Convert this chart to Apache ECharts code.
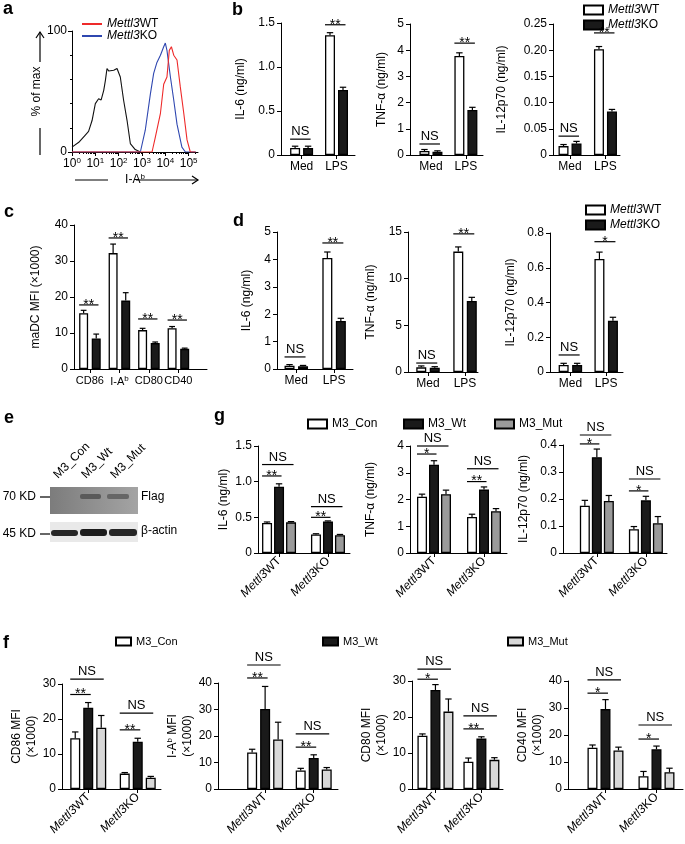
<!DOCTYPE html>
<html><head><meta charset="utf-8">
<script src="https://cdn.jsdelivr.net/npm/echarts@6/dist/echarts.min.js"></script>
<style>html,body{margin:0;padding:0;background:#fff}#c{width:685px;height:844px}</style>
</head><body><div id="c"></div>
<script>
const FONT = '"Liberation Sans", Arial, Helvetica, sans-serif';

// ===== Panel a: histogram (x = log10 of I-A^b, y = % of max)
const aIsoLog = [0,0.29,0.57,0.71,0.86,1.0,1.14,1.25,1.36,1.43,1.5,1.57,1.64,1.79,1.93,2.07,2.21,2.36,2.5,2.71,2.93];
const aIsoPct = [4,8,14,17,26,40,44,43,51,59,69,67,66,67.5,69,62,43,26,7,2,0];
const aKOLog = [0,2.93,3.14,3.36,3.5,3.64,3.79,3.93,4.0,4.07,4.21,4.36,4.5,4.71,4.86,5.3];
const aKOPct = [0,0,18,48,65,74,80,87,90,84,63,43,23,4,0,0];
const aWTLog = [0,3.43,3.57,3.79,3.93,4.07,4.17,4.26,4.36,4.5,4.64,4.79,4.93,5.07,5.3];
const aWTPct = [0,0,12,32,56,62,84,87,80,76,54,32,10,0,0];
const aDecades = [0,1,2,3,4,5];

// ===== categories
const medLps = ['Med','LPS'];
const markers = ['CD86','I-A^b','CD80','CD40'];
const genotypes = ['Mettl3WT','Mettl3KO'];

// ===== Panel b (BMDC cytokines)
const bIL6WT = [0.08,1.36],  bIL6WTErr = [0.02,0.03],  bIL6KO = [0.08,0.74],  bIL6KOErr = [0.02,0.03];
const bTNFWT = [0.15,3.78],  bTNFWTErr = [0.06,0.12],  bTNFKO = [0.12,1.72],  bTNFKOErr = [0.04,0.1];
const bIL12WT = [0.017,0.202], bIL12WTErr = [0.003,0.005], bIL12KO = [0.022,0.083], bIL12KOErr = [0.004,0.004];
const bIL6Sig = [[0,0,1,0.18,'NS'],[1,0,1,1.48,'**']];
const bTNFSig = [[0,0,1,0.42,'NS'],[1,0,1,4.27,'**']];
const bIL12Sig = [[0,0,1,0.036,'NS'],[1,0,1,0.233,'**']];

// ===== Panel c (maDC MFI x1000)
const cWT = [15.5,32.2,10.8,11.3], cWTErr = [0.8,2.5,0.5,0.5];
const cKO = [8.5,19,7.2,5.6],      cKOErr = [1.2,2.2,0.3,0.2];
const cSig = [[0,0,1,17.8,'**'],[1,0,1,36.4,'**'],[2,0,1,13.9,'**'],[3,0,1,13.6,'**']];

// ===== Panel d
const dIL6WT = [0.12,4.05], dIL6WTErr = [0.04,0.22], dIL6KO = [0.1,1.75], dIL6KOErr = [0.03,0.1];
const dTNFWT = [0.5,12.9],  dTNFWTErr = [0.15,0.5],  dTNFKO = [0.45,7.6], dTNFKOErr = [0.12,0.4];
const dIL12WT = [0.04,0.65], dIL12WTErr = [0.01,0.04], dIL12KO = [0.04,0.295], dIL12KOErr = [0.01,0.02];
const dIL6Sig = [[0,0,1,0.44,'NS'],[1,0,1,4.6,'**']];
const dTNFSig = [[0,0,1,0.96,'NS'],[1,0,1,14.8,'**']];
const dIL12Sig = [[0,0,1,0.098,'NS'],[1,0,1,0.75,'*']];

// ===== Panel g (M3 rescue, cytokines)  [Mettl3WT, Mettl3KO]
const gIL6Con = [0.42,0.26], gIL6ConErr = [0.015,0.01], gIL6Wt = [0.93,0.44], gIL6WtErr = [0.04,0.01], gIL6Mut = [0.43,0.25], gIL6MutErr = [0.01,0.01];
const gTNFCon = [2.1,1.35],  gTNFConErr = [0.1,0.1],    gTNFWt = [3.3,2.37],  gTNFWtErr = [0.15,0.1],  gTNFMut = [2.2,1.56],  gTNFMutErr = [0.15,0.1];
const gIL12Con = [0.175,0.088], gIL12ConErr = [0.02,0.01], gIL12Wt = [0.355,0.195], gIL12WtErr = [0.03,0.015], gIL12Mut = [0.193,0.11], gIL12MutErr = [0.02,0.025];
const gIL6Sig = [[0,0,1,1.08,'**'],[0,0,2,1.24,'NS'],[1,0,1,0.5,'**'],[1,0,2,0.65,'NS']];
const gTNFSig = [[0,0,1,3.7,'*'],[0,0,2,4.0,'NS'],[1,0,1,2.67,'**'],[1,0,2,3.15,'NS']];
const gIL12Sig = [[0,0,1,0.404,'*'],[0,0,2,0.437,'NS'],[1,0,1,0.23,'*'],[1,0,2,0.274,'NS']];

// ===== Panel f (M3 rescue, MFI x1000)
const fCD86Con = [14.5,4.4], fCD86ConErr = [1.8,0.3], fCD86Wt = [23.2,13.5], fCD86WtErr = [1.5,1.0], fCD86Mut = [17.5,3.2], fCD86MutErr = [3.5,0.4];
const fIAbCon = [13.8,7.0],  fIAbConErr = [1.2,0.8],  fIAbWt = [30.2,11.7],  fIAbWtErr = [8.5,1.2],  fIAbMut = [18.7,7.4],  fIAbMutErr = [6.5,0.7];
const fCD80Con = [14.8,7.6], fCD80ConErr = [0.5,1.0], fCD80Wt = [27.5,14.0], fCD80WtErr = [1.5,0.5], fCD80Mut = [21.5,8.1], fCD80MutErr = [3.5,0.6];
const fCD40Con = [15.3,4.7], fCD40ConErr = [1.0,1.8], fCD40Wt = [29.6,14.7], fCD40WtErr = [3.5,1.2], fCD40Mut = [14.3,6.2], fCD40MutErr = [1.2,1.5];
const fCD86Sig = [[0,0,1,27,'**'],[0,0,2,31.4,'NS'],[1,0,1,16.9,'**'],[1,0,2,21.7,'NS']];
const fIAbSig  = [[0,0,1,41.9,'**'],[0,0,2,46.8,'NS'],[1,0,1,15.8,'**'],[1,0,2,20.8,'NS']];
const fCD80Sig = [[0,0,1,30.5,'*'],[0,0,2,33.3,'NS'],[1,0,1,16.7,'**'],[1,0,2,20.3,'NS']];
const fCD40Sig = [[0,0,1,35.5,'*'],[0,0,2,40.4,'NS'],[1,0,1,18.5,'*'],[1,0,2,23.7,'NS']];

// ===== styles (not data)
const STY = {
  WT:{name:'Mettl3WT', color:'#ffffff'}, KO:{name:'Mettl3KO', color:'#1a1a1a'},
  fCon:{name:'fCon', color:'#ffffff'}, fWt:{name:'fWt', color:'#1a1a1a'}, fMut:{name:'fMut', color:'#d8d8d8'},
  gCon:{name:'gCon', color:'#ffffff'}, gWt:{name:'gWt', color:'#1a1a1a'}, gMut:{name:'gMut', color:'#9a9a9a'}
};
const LEG = {Mettl3WT:'{i|Mettl3}WT', Mettl3KO:'{i|Mettl3}KO', hWT:'{i|Mettl3}WT', hKO:'{i|Mettl3}KO',
  fCon:'M3_Con', fWt:'M3_Wt', fMut:'M3_Mut', gCon:'M3_Con', gWt:'M3_Wt', gMut:'M3_Mut'};

// layout: grid box and x range (category index units)
const L = {
  a:{left:72,top:31,width:126,height:121},
  b1:{left:281,top:23,width:74,height:132,xmin:-0.59,xmax:1.53,gap:33},
  b2:{left:410,top:24,width:73,height:131,xmin:-0.6,xmax:1.49,gap:21},
  b3:{left:553,top:24,width:67,height:131,xmin:-0.48,xmax:1.41,gap:44},
  c:{left:74,top:225,width:133,height:144,xmin:-0.54,xmax:3.97,gap:31},
  d1:{left:277,top:232,width:76,height:137,xmin:-0.51,xmax:1.5,gap:23},
  d2:{left:408,top:232,width:70,height:140,xmin:-0.54,xmax:1.35,gap:30},
  d3:{left:550,top:233,width:73,height:139,xmin:-0.57,xmax:1.47,gap:32},
  g1:{left:258,top:446,width:92,height:107,xmin:-0.43,xmax:1.45,gap:15},
  g2:{left:410,top:446,width:97,height:107,xmin:-0.48,xmax:1.46,gap:32},
  g3:{left:563,top:445,width:104,height:108,xmin:-0.69,xmax:1.43,gap:32},
  f1:{left:62,top:684,width:99,height:105,xmin:-0.53,xmax:1.47,gap:20},
  f2:{left:218,top:683,width:120,height:106,xmin:-0.97,xmax:1.5,gap:4},
  f3:{left:412,top:681,width:91,height:108,xmin:-0.51,xmax:1.47,gap:16},
  f4:{left:568,top:681,width:115,height:108,xmin:-0.735,xmax:1.52,gap:8}
};

const panels = [
  {L:L.b1, cats:medLps, yMax:1.5, yInt:0.5, dec:1, yName:'IL-6 (ng/ml)', bw:10, bg:0.3, rot:0,
   ser:[['WT',bIL6WT,bIL6WTErr],['KO',bIL6KO,bIL6KOErr]], sig:bIL6Sig},
  {L:L.b2, cats:medLps, yMax:5, yInt:1, dec:0, yName:'TNF-α (ng/ml)', bw:10, bg:0.3, rot:0,
   ser:[['WT',bTNFWT,bTNFWTErr],['KO',bTNFKO,bTNFKOErr]], sig:bTNFSig},
  {L:L.b3, cats:medLps, yMax:0.25, yInt:0.05, dec:2, yName:'IL-12p70 (ng/ml)', bw:10, bg:0.3, rot:0,
   ser:[['WT',bIL12WT,bIL12WTErr],['KO',bIL12KO,bIL12KOErr]], sig:bIL12Sig},
  {L:L.c, cats:markers, yMax:40, yInt:10, dec:0, yName:'maDC MFI (×1000)', bw:9, bg:0.4, rot:0, lab:11,
   ser:[['WT',cWT,cWTErr],['KO',cKO,cKOErr]], sig:cSig},
  {L:L.d1, cats:medLps, yMax:5, yInt:1, dec:0, yName:'IL-6 (ng/ml)', bw:10, bg:0.35, rot:0,
   ser:[['WT',dIL6WT,dIL6WTErr],['KO',dIL6KO,dIL6KOErr]], sig:dIL6Sig},
  {L:L.d2, cats:medLps, yMax:15, yInt:5, dec:0, yName:'TNF-α (ng/ml)', bw:10, bg:0.35, rot:0,
   ser:[['WT',dTNFWT,dTNFWTErr],['KO',dTNFKO,dTNFKOErr]], sig:dTNFSig},
  {L:L.d3, cats:medLps, yMax:0.8, yInt:0.2, dec:1, yName:'IL-12p70 (ng/ml)', bw:10, bg:0.35, rot:0,
   ser:[['WT',dIL12WT,dIL12WTErr],['KO',dIL12KO,dIL12KOErr]], sig:dIL12Sig},
  {L:L.g1, cats:genotypes, yMax:1.5, yInt:0.5, dec:1, yName:'IL-6 (ng/ml)', bw:10, bg:0.2, rot:45,
   ser:[['gCon',gIL6Con,gIL6ConErr],['gWt',gIL6Wt,gIL6WtErr],['gMut',gIL6Mut,gIL6MutErr]], sig:gIL6Sig},
  {L:L.g2, cats:genotypes, yMax:4, yInt:1, dec:0, yName:'TNF-α (ng/ml)', bw:10, bg:0.2, rot:45,
   ser:[['gCon',gTNFCon,gTNFConErr],['gWt',gTNFWt,gTNFWtErr],['gMut',gTNFMut,gTNFMutErr]], sig:gTNFSig},
  {L:L.g3, cats:genotypes, yMax:0.4, yInt:0.1, dec:1, yName:'IL-12p70 (ng/ml)', bw:10, bg:0.2, rot:45,
   ser:[['gCon',gIL12Con,gIL12ConErr],['gWt',gIL12Wt,gIL12WtErr],['gMut',gIL12Mut,gIL12MutErr]], sig:gIL12Sig},
  {L:L.f1, cats:genotypes, yMax:30, yInt:10, dec:0, yName:'CD86 MFI\n(×1000)', bw:10, bg:0.3, rot:45,
   ser:[['fCon',fCD86Con,fCD86ConErr],['fWt',fCD86Wt,fCD86WtErr],['fMut',fCD86Mut,fCD86MutErr]], sig:fCD86Sig},
  {L:L.f2, cats:genotypes, yMax:40, yInt:10, dec:0, yName:'I-A{s|b} MFI\n(×1000)', bw:10, bg:0.3, rot:45,
   ser:[['fCon',fIAbCon,fIAbConErr],['fWt',fIAbWt,fIAbWtErr],['fMut',fIAbMut,fIAbMutErr]], sig:fIAbSig},
  {L:L.f3, cats:genotypes, yMax:30, yInt:10, dec:0, yName:'CD80 MFI\n(×1000)', bw:10, bg:0.3, rot:45,
   ser:[['fCon',fCD80Con,fCD80ConErr],['fWt',fCD80Wt,fCD80WtErr],['fMut',fCD80Mut,fCD80MutErr]], sig:fCD80Sig},
  {L:L.f4, cats:genotypes, yMax:40, yInt:10, dec:0, yName:'CD40 MFI\n(×1000)', bw:10, bg:0.3, rot:45,
   ser:[['fCon',fCD40Con,fCD40ConErr],['fWt',fCD40Wt,fCD40WtErr],['fMut',fCD40Mut,fCD40MutErr]], sig:fCD40Sig}
];

function mkRich(sz){
  return {
    i:{fontStyle:'italic', fontSize:sz, fontFamily:FONT, color:'#000'},
    s:{fontSize:8, fontFamily:FONT, color:'#000', verticalAlign:'bottom', padding:[0,0,6,0]}
  };
}
const RICH = mkRich(12);
function catLabel(name){
  if (name.indexOf('Mettl3') === 0) return '{i|Mettl3}' + name.slice(6);
  return name.replace(/\^(\w+)/, '{s|$1}');
}

const grid = [], xAxis = [], yAxis = [], series = [];

// --- panel a
grid.push({left:L.a.left, top:L.a.top, width:L.a.width, height:L.a.height});
xAxis.push({gridIndex:0, type:'value', min:0, max:5.4, position:'bottom',
  axisLine:{show:true, onZero:false, lineStyle:{color:'#000', width:1}},
  axisTick:{show:true, customValues:aDecades, length:4, lineStyle:{color:'#000'}},
  axisLabel:{customValues:aDecades, color:'#000', fontSize:12, fontFamily:FONT, margin:5,
    showMinLabel:true, showMaxLabel:true, hideOverlap:false,
    formatter:v => '10{s|' + v + '}', rich:RICH},
  splitLine:{show:false},
  name:'I-A{s|b}', nameLocation:'middle', nameGap:21,
  nameTextStyle:{color:'#000', fontSize:12, fontFamily:FONT, rich:RICH}});
yAxis.push({gridIndex:0, type:'value', min:0, max:100, interval:100,
  axisLine:{show:true, onZero:false, lineStyle:{color:'#000', width:1}},
  axisTick:{show:true, length:4, lineStyle:{color:'#000'}},
  minorTick:{show:true, splitNumber:5, length:2, lineStyle:{color:'#000'}},
  axisLabel:{color:'#000', fontSize:12, fontFamily:FONT, margin:5},
  splitLine:{show:false}, minorSplitLine:{show:false},
  name:'% of max', nameLocation:'middle', nameGap:25,
  nameTextStyle:{color:'#000', fontSize:12, fontFamily:FONT}});
const histLine = (name, xs, ys, color) => ({type:'line', name, xAxisIndex:0, yAxisIndex:0, symbol:'none',
  data: xs.map((x, i) => [x, ys[i]]), lineStyle:{color, width:1.1}, itemStyle:{color}, silent:true});
series.push(histLine('hIso', aIsoLog, aIsoPct, '#111'));
series.push(histLine('hKO', aKOLog, aKOPct, '#2f47b0'));
series.push(histLine('hWT', aWTLog, aWTPct, '#ee2a2a'));

function errRender(bw, gapPx, n, i){
  return function(params, api){
    const x = api.value(0), m = api.value(1), e = api.value(2);
    const off = (i - (n - 1) / 2) * (bw + gapPx);
    const p0 = api.coord([x, m]), p1 = api.coord([x, m + e]);
    const cx = p0[0] + off, cap = bw * 0.32;
    return {type:'group', children:[
      {type:'line', shape:{x1:cx, y1:p0[1], x2:cx, y2:p1[1]}, style:{stroke:'#000', lineWidth:1.2}},
      {type:'line', shape:{x1:cx - cap, y1:p1[1], x2:cx + cap, y2:p1[1]}, style:{stroke:'#000', lineWidth:1.2}}
    ]};
  };
}
function sigRender(sig, bw, gapPx, n){
  return function(params, api){
    const s = sig[params.dataIndex];
    const off = k => (k - (n - 1) / 2) * (bw + gapPx);
    const p = api.coord([s[0], s[3]]);
    const x1 = p[0] + off(s[1]) - bw / 2, x2 = p[0] + off(s[2]) + bw * 0.25;
    const star = s[4].indexOf('*') >= 0;
    return {type:'group', children:[
      {type:'line', shape:{x1, y1:p[1], x2, y2:p[1]}, style:{stroke:'#000', lineWidth:1.2}},
      {type:'text', x:(x1 + x2) / 2, y: star ? p[1] + 7 : p[1] - 1,
        style:{text:s[4], align:'center', verticalAlign:'bottom', fontSize: star ? 14 : 13, fontFamily:FONT, fill:'#000'}}
    ]};
  };
}

panels.forEach((p, k) => {
  const gi = k + 1;
  const idx = p.cats.map((c, i) => i);
  const lab = p.lab || 12;
  grid.push({left:p.L.left, top:p.L.top, width:p.L.width, height:p.L.height});
  xAxis.push({gridIndex:gi, type:'value', min:p.L.xmin, max:p.L.xmax,
    axisLine:{show:true, onZero:false, lineStyle:{color:'#000', width:1}},
    axisTick:{show:true, customValues:idx, length:4, lineStyle:{color:'#000'}},
    axisLabel:{customValues:idx, color:'#000', fontSize:lab, fontFamily:FONT, margin:6, rotate:p.rot,
      showMinLabel:true, showMaxLabel:true, hideOverlap:false,
      formatter:v => catLabel(p.cats[Math.round(v)]), rich:mkRich(lab)},
    splitLine:{show:false}});
  yAxis.push({gridIndex:gi, type:'value', min:0, max:p.yMax, interval:p.yInt,
    axisLine:{show:true, onZero:false, lineStyle:{color:'#000', width:1}},
    axisTick:{show:true, length:4, lineStyle:{color:'#000'}},
    axisLabel:{color:'#000', fontSize:12, fontFamily:FONT, margin:6,
      formatter:v => v === 0 ? '0' : v.toFixed(p.dec)},
    splitLine:{show:false},
    name:p.yName, nameLocation:'middle', nameGap:p.L.gap,
    nameTextStyle:{color:'#000', fontSize:12, fontFamily:FONT, lineHeight:15, rich:RICH}});
  const n = p.ser.length, gapPx = p.bw * p.bg;
  p.ser.forEach(([key, vals]) => {
    series.push({type:'bar', name:STY[key].name, xAxisIndex:gi, yAxisIndex:gi,
      barWidth:p.bw, barGap:(p.bg * 100) + '%', silent:true,
      data: vals.map((v, i) => [i, v]),
      itemStyle:{color:STY[key].color, borderColor:'#000', borderWidth:1.3}});
  });
  p.ser.forEach(([key, vals, errs], si) => {
    series.push({type:'custom', xAxisIndex:gi, yAxisIndex:gi, silent:true, z:3,
      data: vals.map((v, i) => [i, v, errs[i]]), encode:{x:0, y:1},
      renderItem: errRender(p.bw, gapPx, n, si)});
  });
  series.push({type:'custom', xAxisIndex:gi, yAxisIndex:gi, silent:true, z:4,
    data: p.sig.map(s => [s[0], s[3]]), encode:{x:0, y:1},
    renderItem: sigRender(p.sig, p.bw, gapPx, n)});
});

// panel a: log-scale minor ticks on an extra, label-less x axis
const aMinor = [];
aDecades.forEach(d => [2,3,4,5,6,7,8,9].forEach(m => { const t = d + Math.log10(m); if (t <= 5.4) aMinor.push(t); }));
xAxis.push({gridIndex:0, type:'value', min:0, max:5.4, position:'bottom',
  axisLine:{show:false, onZero:false}, axisTick:{show:true, customValues:aMinor, length:2, lineStyle:{color:'#000'}},
  axisLabel:{show:false}, splitLine:{show:false}});

function legend(names, left, top, opts){
  return Object.assign({data:names, left, top, orient:'vertical', selectedMode:false, icon:'rect',
    itemWidth:19, itemHeight:9, itemGap:3,
    formatter: nm => LEG[nm] || nm,
    textStyle:{color:'#000', fontSize:12, fontFamily:FONT, rich:RICH}}, opts || {});
}
const fTxt = {color:'#000', fontSize:11, fontFamily:FONT};
const legends = [
  legend(['hWT','hKO'], 77, 13, {itemWidth:20, itemHeight:2, itemGap:0}),
  legend(['Mettl3WT','Mettl3KO'], 578, -1),
  legend(['Mettl3WT','Mettl3KO'], 580, 199),
  legend(['gCon'], 302, 413), legend(['gWt'], 398, 413), legend(['gMut'], 489, 413),
  legend(['fCon'], 110, 631, {itemWidth:15, itemHeight:8, textStyle:fTxt}),
  legend(['fWt'], 317, 631, {itemWidth:15, itemHeight:8, textStyle:fTxt}),
  legend(['fMut'], 502, 631, {itemWidth:15, itemHeight:8, textStyle:fTxt})
];

const letter = (t, x, y) => ({type:'text', x, y, style:{text:t, fontSize:18, fontWeight:'bold', fontFamily:FONT, fill:'#000', verticalAlign:'top'}});
const ln = (x1, y1, x2, y2, w) => ({type:'line', shape:{x1, y1, x2, y2}, style:{stroke:'#000', lineWidth:w || 1.2}});
const txt = (t, x, y, o) => ({type:'text', x, y, style:Object.assign({text:t, fontSize:12, fontFamily:FONT, fill:'#000', verticalAlign:'middle'}, o || {})});
const graphic = [
  letter('a', 3, 0), letter('b', 232, 1), letter('c', 4, 203), letter('d', 233, 212),
  letter('e', 4, 409), letter('g', 214, 407), letter('f', 3, 634),
  // panel a axis arrows
  ln(75, 180, 108, 180), ln(136, 180, 198, 180),
  {type:'polyline', shape:{points:[[192,176],[198,180],[192,184]]}, style:{stroke:'#000', lineWidth:1.2, fill:null}},
  ln(40, 155, 40, 128), ln(40, 62, 40, 32),
  {type:'polyline', shape:{points:[[36,38],[40,32],[44,38]]}, style:{stroke:'#000', lineWidth:1.2, fill:null}},
  // panel e western blot
  {type:'rect', shape:{x:50, y:487, width:88, height:27},
    style:{fill:{type:'linear', x:0, y:0, x2:1, y2:0, colorStops:[{offset:0, color:'#7c7c7c'},{offset:1, color:'#a4a4a4'}]}}},
  {type:'rect', shape:{x:80, y:494, width:21, height:5, r:2}, style:{fill:'#5a5a5a'}},
  {type:'rect', shape:{x:107, y:494, width:22, height:5, r:2}, style:{fill:'#666'}},
  {type:'rect', shape:{x:50, y:522, width:88, height:20}, style:{fill:'#e9e9e9'}},
  {type:'rect', shape:{x:51, y:530, width:27, height:6, r:3}, style:{fill:'#262626'}},
  {type:'rect', shape:{x:80, y:529, width:27, height:7, r:3}, style:{fill:'#1c1c1c'}},
  {type:'rect', shape:{x:109, y:529, width:28, height:7, r:3}, style:{fill:'#262626'}},
  ln(40, 497, 50, 497), ln(40, 534, 50, 534),
  txt('70 KD', 36, 497, {align:'right'}), txt('45 KD', 36, 534, {align:'right'}),
  txt('Flag', 141, 497), txt('β-actin', 141, 531),
  {type:'text', x:60, y:481, rotation:Math.PI / 4, style:{text:'M3_Con', fontSize:12, fontFamily:FONT, fill:'#000', align:'left', verticalAlign:'bottom'}},
  {type:'text', x:88, y:481, rotation:Math.PI / 4, style:{text:'M3_Wt', fontSize:12, fontFamily:FONT, fill:'#000', align:'left', verticalAlign:'bottom'}},
  {type:'text', x:117, y:481, rotation:Math.PI / 4, style:{text:'M3_Mut', fontSize:12, fontFamily:FONT, fill:'#000', align:'left', verticalAlign:'bottom'}}
];

const chart = echarts.init(document.getElementById('c'), null, {renderer:'canvas'});
chart.setOption({animation:false, backgroundColor:'#fff', grid, xAxis, yAxis, series, legend:legends, graphic});
</script>
</body></html>
